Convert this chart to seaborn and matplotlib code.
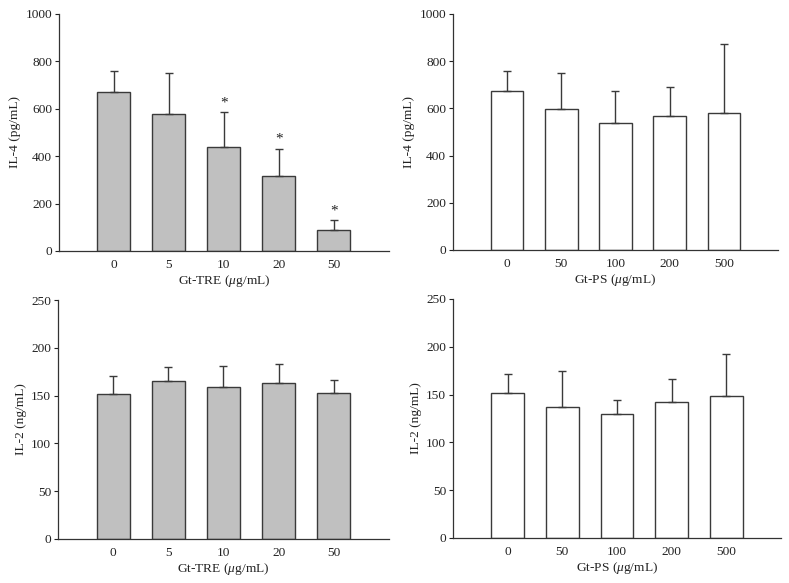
import matplotlib
matplotlib.use("Agg")
import matplotlib.pyplot as plt
import seaborn as sns
import numpy as np
import pandas as pd

# ---- data ----
tre_doses = ["0", "5", "10", "20", "50"]
ps_doses = ["0", "50", "100", "200", "500"]

il4_tre_mean = [670, 580, 437, 316, 89]
il4_tre_err = [88, 170, 148, 116, 40]
il4_tre_sig = [False, False, True, True, True]

il4_ps_mean = [673, 596, 539, 566, 581]
il4_ps_err = [86, 155, 135, 126, 290]

il2_tre_mean = [151.5, 165.5, 158.5, 163.5, 152.8]
il2_tre_err = [19.5, 14.0, 22.0, 19.8, 14.0]

il2_ps_mean = [151.5, 137.0, 129.5, 142.0, 148.5]
il2_ps_err = [19.5, 37.5, 14.5, 24.0, 43.5]

sns.set_theme(style="ticks")
plt.rcParams["font.family"] = ["Liberation Serif", "DejaVu Serif"]
plt.rcParams["mathtext.fontset"] = "custom"
plt.rcParams["mathtext.it"] = "Liberation Serif:italic"
plt.rcParams["mathtext.rm"] = "Liberation Serif"

fig = plt.figure(figsize=(7.89, 5.83), dpi=100)

GRAY_FILL = "#c0c0c0"
EDGE = "#3a3a3a"
FS = 9.6

panels = [
    ([0.0748, 0.5695, 0.418, 0.4065], tre_doses, il4_tre_mean, il4_tre_err, il4_tre_sig,
     GRAY_FILL, "IL-4 (pg/mL)", "Gt-TRE ($\\mu$g/mL)", 1000, 200),
    ([0.5741, 0.5712, 0.4119, 0.4048], ps_doses, il4_ps_mean, il4_ps_err, None,
     "white", "IL-4 (pg/mL)", "Gt-PS ($\\mu$g/mL)", 1000, 200),
    ([0.0735, 0.0755, 0.4195, 0.4099], tre_doses, il2_tre_mean, il2_tre_err, None,
     GRAY_FILL, "IL-2 (ng/mL)", "Gt-TRE ($\\mu$g/mL)", 250, 50),
    ([0.5741, 0.0772, 0.4157, 0.4100], ps_doses, il2_ps_mean, il2_ps_err, None,
     "white", "IL-2 (ng/mL)", "Gt-PS ($\\mu$g/mL)", 250, 50),
]

for rect, cats, means, errs, sig, fill, ylab, xlab, ymax, ystep in panels:
    ax = fig.add_axes(rect)
    df = pd.DataFrame({"dose": cats, "value": means})
    sns.barplot(data=df, x="dose", y="value", order=cats, color=fill,
                edgecolor=EDGE, linewidth=1.0, width=0.6, saturation=1,
                errorbar=None, ax=ax)
    for p in ax.patches:
        p.set_facecolor(fill)
    xs = np.arange(len(cats))
    ax.errorbar(xs, means, yerr=[np.zeros(len(errs)), errs], fmt="none",
                ecolor=EDGE, elinewidth=1.0, capsize=3.0, capthick=1.0, zorder=1)
    if sig is not None:
        for i, s in enumerate(sig):
            if s:
                ax.annotate("*", (xs[i], means[i] + errs[i]), xytext=(0, 2),
                            textcoords="offset points", ha="center", va="bottom",
                            fontsize=11, color="#222222")
    ax.set_xlim(-1, 5)
    ax.set_ylim(0, ymax)
    ax.set_yticks(np.arange(0, ymax + 1, ystep))
    ax.set_xlabel(xlab, fontsize=FS, labelpad=1, color="#222222")
    ax.set_ylabel(ylab, fontsize=FS, labelpad=3, color="#222222")
    ax.tick_params(axis="y", direction="out", length=3, width=0.8,
                   labelsize=FS, colors="#222222", pad=2)
    ax.tick_params(axis="x", length=0, labelsize=FS, colors="#222222", pad=6)
    for side in ["top", "right"]:
        ax.spines[side].set_visible(False)
    for side in ["left", "bottom"]:
        ax.spines[side].set_color("#333333")
        ax.spines[side].set_linewidth(0.9)

fig.savefig("out.png", dpi=100)
